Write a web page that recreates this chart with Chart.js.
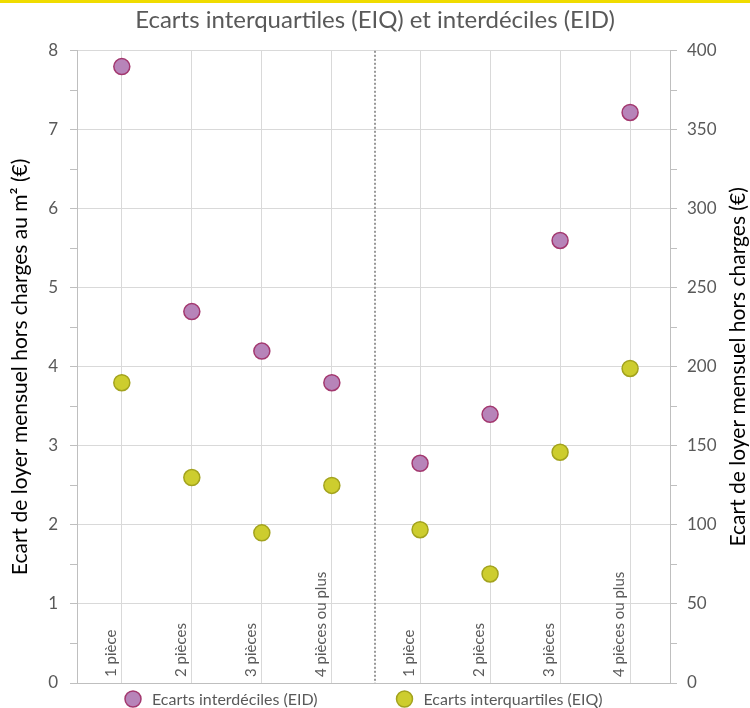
<!DOCTYPE html>
<html lang="fr">
<head>
    <meta charset="UTF-8">
    <title>Ecarts interquartiles et interdéciles</title>
    <script src="https://cdn.jsdelivr.net/npm/chart.js"></script>
    <style>
        body { margin: 0; background: #fff; }
        .bande { height: 3px; background: #f0dc00; }
        .wrapper { position: relative; width: 750px; height: 705px; }
    </style>
</head>
<body>
    <div class="bande"></div>
    <div class="wrapper">
        <canvas id="ecartsChart"></canvas>
    </div>
    <script>
// catégories (répétées à gauche et à droite)
const pieces = ['1 pièce', '2 pièces', '3 pièces', '4 pièces ou plus'];

// écarts au m² (axe de gauche, €)
const eidM2 = [7.8, 4.7, 4.2, 3.8];
const eiqM2 = [3.8, 2.6, 1.9, 2.5];

// écarts mensuels (axe de droite, €)
const eidMois = [139, 170, 280, 361];
const eiqMois = [97, 69, 146, 199];

// bornes des axes
const maxM2 = 8;
const maxMois = 400;

// mise en page de l'axe horizontal (en "rangs" de catégorie)
const decalage = 4.26;
const separateur = 3.61;
const xMin = -0.64;
const xMax = 7.83;

const gris = '#595959';
const police = 'Lato, "Open Sans", sans-serif';

function points(valeurs, offset) {
    return valeurs.map((v, i) => ({ x: i + offset, y: v }));
}

const positions = pieces.map((p, i) => i).concat(pieces.map((p, i) => i + decalage));

const decor = {
    id: 'decor',
    beforeDatasetsDraw(chart) {
        const { ctx, chartArea, scales: { x } } = chart;
        ctx.save();
        // séparateur pointillé
        const sx = Math.round(x.getPixelForValue(separateur));
        ctx.strokeStyle = '#999999';
        ctx.lineWidth = 2;
        ctx.setLineDash([2, 2]);
        ctx.beginPath();
        ctx.moveTo(sx, chartArea.top);
        ctx.lineTo(sx, chartArea.bottom);
        ctx.stroke();
        ctx.setLineDash([]);

        // libellés verticaux des catégories
        ctx.font = '15px ' + police;
        ctx.fillStyle = gris;
        ctx.textAlign = 'left';
        ctx.textBaseline = 'alphabetic';
        [0, decalage].forEach(off => {
            pieces.forEach((p, i) => {
                const px = x.getPixelForValue(i + off);
                ctx.save();
                ctx.translate(px - 6, chartArea.bottom - 6);
                ctx.rotate(-Math.PI / 2);
                ctx.fillText(p, 0, 0);
                ctx.restore();
            });
        });
        ctx.restore();
    },
    afterDraw(chart) {
        const { ctx, chartArea } = chart;
        ctx.save();
        // titre de l'axe de droite, lu de bas en haut
        ctx.font = '21px ' + police;
        ctx.fillStyle = '#000';
        ctx.textAlign = 'center';
        ctx.textBaseline = 'middle';
        ctx.save();
        ctx.translate(chartArea.right + 68, (chartArea.top + chartArea.bottom) / 2);
        ctx.rotate(-Math.PI / 2);
        ctx.fillText('Ecart de loyer mensuel hors charges (€)', 0, 0);
        ctx.restore();

        // légende
        const milieu = (chartArea.left + chartArea.right) / 2;
        const items = [
            { ds: chart.data.datasets[0], cx: chartArea.left + 56 },
            { ds: chart.data.datasets[2], cx: milieu + 31 }
        ];
        const ly = chartArea.bottom + 16;
        ctx.font = '16px ' + police;
        ctx.textAlign = 'left';
        items.forEach(it => {
            ctx.beginPath();
            ctx.arc(it.cx, ly, 8, 0, Math.PI * 2);
            ctx.fillStyle = it.ds.backgroundColor;
            ctx.fill();
            ctx.lineWidth = 1.5;
            ctx.strokeStyle = it.ds.borderColor;
            ctx.stroke();
            ctx.fillStyle = gris;
            ctx.fillText(it.ds.label, it.cx + 19, ly + 1);
        });
        ctx.restore();
    }
};

const styleEID = { backgroundColor: '#b784b9', borderColor: '#a3386f' };
const styleEIQ = { backgroundColor: '#cdcd2e', borderColor: '#a3a31e' };

new Chart(document.getElementById('ecartsChart'), {
    type: 'scatter',
    data: {
        datasets: [
            { label: 'Ecarts interdéciles (EID)', data: points(eidM2, 0), yAxisID: 'y', ...styleEID },
            { label: 'Ecarts interdéciles (EID) mois', data: points(eidMois, decalage), yAxisID: 'y2', ...styleEID },
            { label: 'Ecarts interquartiles (EIQ)', data: points(eiqM2, 0), yAxisID: 'y', ...styleEIQ },
            { label: 'Ecarts interquartiles (EIQ) mois', data: points(eiqMois, decalage), yAxisID: 'y2', ...styleEIQ }
        ]
    },
    options: {
        responsive: true,
        maintainAspectRatio: false,
        animation: false,
        elements: {
            point: { radius: 8, borderWidth: 1.5 }
        },
        layout: { padding: { top: 0, bottom: 23, left: 0, right: 0 } },
        plugins: {
            title: {
                display: true,
                text: 'Ecarts interquartiles (EIQ) et interdéciles (EID)',
                color: gris,
                font: { family: police, size: 24, weight: 'normal' },
                padding: { top: 3, bottom: 16 }
            },
            legend: { display: false },
            tooltip: { enabled: false }
        },
        scales: {
            x: {
                type: 'linear',
                min: xMin,
                max: xMax,
                afterBuildTicks: s => { s.ticks = positions.map(v => ({ value: v })); },
                afterFit: s => { s.height = 2; },
                ticks: { display: false },
                grid: { color: '#d9d9d9', drawTicks: false },
                border: { color: '#bfbfbf' }
            },
            y: {
                position: 'left',
                min: 0,
                max: maxM2,
                afterFit: s => { s.width = 77; },
                ticks: {
                    stepSize: 0.5,
                    autoSkip: false,
                    callback: v => Number.isInteger(v) ? v : '',
                    color: gris,
                    padding: 12,
                    font: { family: police, size: 17 }
                },
                grid: {
                    color: c => Number.isInteger(c.tick.value) ? '#d9d9d9' : 'rgba(0,0,0,0)',
                    tickColor: '#bfbfbf',
                    tickLength: 7
                },
                border: { color: '#bfbfbf' },
                title: {
                    display: true,
                    text: 'Ecart de loyer mensuel hors charges au m² (€)',
                    color: '#000',
                    font: { family: police, size: 21 },
                    padding: { top: 8 }
                }
            },
            y2: {
                position: 'right',
                min: 0,
                max: maxMois,
                afterFit: s => { s.width = 80; },
                ticks: {
                    stepSize: 25,
                    autoSkip: false,
                    callback: v => v % 50 === 0 ? v : '',
                    color: gris,
                    padding: 10,
                    font: { family: police, size: 17 }
                },
                grid: {
                    drawOnChartArea: false,
                    tickColor: '#bfbfbf',
                    tickLength: 7
                },
                border: { color: '#bfbfbf' }
            }
        }
    },
    plugins: [decor]
});
    </script>
</body>
</html>
